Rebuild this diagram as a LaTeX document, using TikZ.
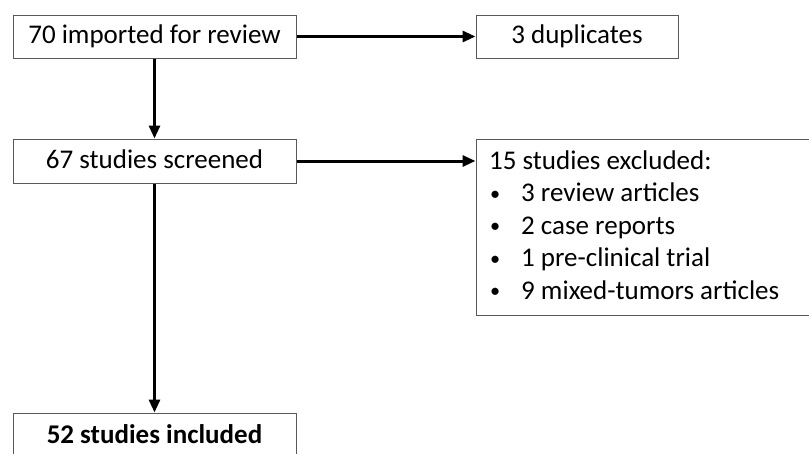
\documentclass[tikz,border=0pt]{standalone}
\usepackage{fontspec}
\setmainfont{Carlito}
\usepackage{graphicx}
\usetikzlibrary{arrows.meta}
\newcommand{\smallbul}{\makebox[32pt][l]{\hspace{1pt}\raisebox{1.5pt}{\scalebox{0.75}{\textbullet}}}}
\tikzset{
  boxnode/.style={draw=black!65, line width=1pt, fill=white, inner sep=0pt,
    text height=18pt, text depth=4pt, font=\fontsize{27}{29}\selectfont},
  flowarrow/.style={line width=3pt, -{Triangle[length=13pt,width=11pt]}},
  itemtext/.style={anchor=base west, inner sep=0pt, font=\fontsize{27}{29}\selectfont}
}
\begin{document}
\begin{tikzpicture}[x=1pt,y=-1pt]
\useasboundingbox (0,0) rectangle (809,453);
\clip (0,0) rectangle (809,453);
\node[boxnode, minimum width=283pt, minimum height=43pt] (imp) at (154.5,36.5) {70 imported for review};
\node[boxnode, minimum width=202pt, minimum height=43pt] (dup) at (577,36.5) {3 duplicates};
\node[boxnode, minimum width=283pt, minimum height=44pt] (scr) at (154.5,161) {67 studies screened};
\node[boxnode, minimum width=354pt, minimum height=176pt] (exc) at (653,227) {};
\node[boxnode, minimum width=283pt, minimum height=46.6pt, font=\fontsize{27}{29}\selectfont\bfseries] (inc) at (154.5,436.3) {52 studies included};
\node[itemtext] (e1) at (489,169) {15 studies excluded:};
\node[itemtext] (e2) at (489,201.5) {\smallbul 3 review articles};
\node[itemtext] (e3) at (489,234) {\smallbul 2 case reports};
\node[itemtext] (e4) at (489,266.5) {\smallbul 1 pre-clinical trial};
\node[itemtext] (e5) at (489,299) {\smallbul 9 mixed-tumors articles};
\draw[flowarrow] (imp.east) -- (dup.west);
\draw[flowarrow] (scr.east) -- (scr.east -| exc.west);
\draw[flowarrow] (imp.south) -- (scr.north);
\draw[flowarrow] (scr.south) -- (inc.north);
\end{tikzpicture}
\end{document}
